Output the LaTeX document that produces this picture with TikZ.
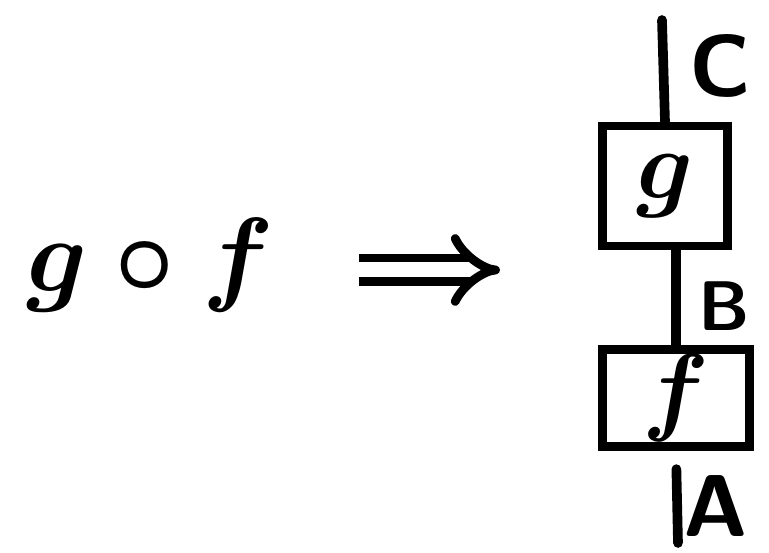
\RequirePackage{fix-cm}
\documentclass[tikz,border=0pt]{standalone}
\usepackage{amsmath}
\usetikzlibrary{arrows.meta, positioning, calc}
\tikzset{
  sd box/.style={
    rectangle, draw=black, line width=5pt, fill=none,
    inner sep=0pt, font=\fontsize{56}{56}\selectfont\boldmath
  },
  sd wire/.style={
    draw=black, line width=5.5pt, line cap=round
  },
  sd label/.style={
    font=\fontsize{50}{50}\selectfont\sffamily\bfseries, inner sep=0pt
  },
  sd implies/.style={
    -{Implies[scale=1.5]}, double, double distance=0.3cm, line width=5pt
  }
}

\begin{document}
\begin{tikzpicture}[x=0.02cm, y=-0.02cm]
  \useasboundingbox (0,0) rectangle (769,553);

  % left hand side
  \node (lhs) [anchor=base, font=\fontsize{60}{60}\selectfont\boldmath,
    inner sep=0pt] at (150,292) {$g\circ f$};

  % string diagram
  \node (gbox) [sd box, minimum width=2.5cm, minimum height=2.4cm]
    at (665,186) {$g$};
  \node (fbox) [sd box, minimum width=2.94cm, minimum height=1.94cm,
    below=1.9cm of gbox, xshift=0.22cm] {$f$};

  \coordinate (top) at (662,20);
  \coordinate (bot) at (678,543);

  \draw [sd wire] (gbox.north) -- (top);
  \draw [sd wire] (gbox.south -| fbox.north) -- (fbox.north);
  \draw [sd wire, shorten <=0.36cm] (fbox.south) -- (bot);

  \node (lblc) [sd label] at (720,66) {C};
  \node (lblb) [sd label, font=\fontsize{40}{40}\selectfont\sffamily\bfseries]
    at (724,306) {B};
  \node (lbla) [sd label] at (716,506) {A};

  % rewrite arrow
  \coordinate (rhs) at (500,270);
  \draw [sd implies, shorten <=1.7cm] (lhs.east |- rhs) -- (rhs);
\end{tikzpicture}
\end{document}
